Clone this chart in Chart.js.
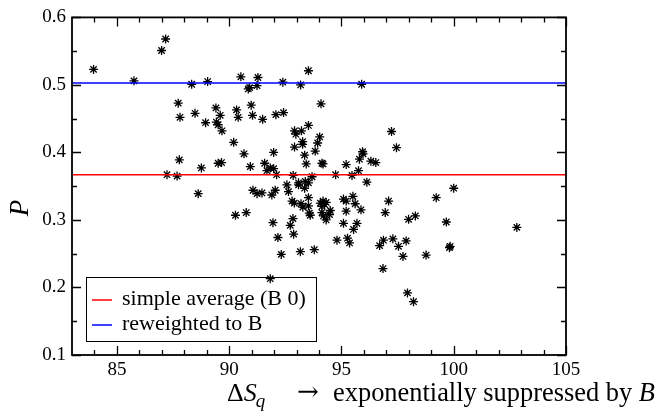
<!DOCTYPE html>
<html>
<head>
<meta charset="utf-8">
<script src="https://cdn.jsdelivr.net/npm/chart.js@4/dist/chart.umd.min.js"></script>
<style>
  body { margin: 0; background: #fff; }
  #wrap { width: 659px; height: 414px; }
</style>
</head>
<body>
<div id="wrap"><canvas id="c" width="659" height="414"></canvas></div>
<script>
// values
const deltaS = [
  83.96, 85.76, 86.99, 87.17, 87.73, 87.81, 88.33, 88.48, 88.95, 89.04,
  89.41, 89.43, 89.51, 89.60, 89.68, 90.20, 90.33, 90.40, 90.52, 90.66,
  90.85, 90.91, 90.98, 91.04, 90.94, 91.28, 91.24, 87.78, 87.23, 87.68,
  88.76, 89.51, 89.66, 92.39, 93.18, 93.53, 95.90, 94.09, 92.08, 92.42,
  91.49, 93.53, 92.91, 92.97, 93.22, 94.03, 93.94, 93.27, 93.27, 92.91,
  93.83, 91.98, 93.36, 97.23, 97.45, 95.94, 95.96, 95.80, 96.31, 96.53,
  91.58, 91.83, 91.98, 91.68, 93.43, 94.13, 94.18, 95.21, 95.76, 92.11,
  92.85, 93.69, 94.74, 95.47, 96.13, 88.62, 91.06, 91.24, 90.28, 90.76,
  92.57, 93.09, 93.39, 93.53, 93.36, 93.09, 91.46, 91.90, 92.05, 92.64,
  93.53, 92.80, 92.90, 93.20, 93.28, 93.53, 94.06, 94.18, 94.32, 94.13,
  94.25, 94.50, 94.47, 94.13, 94.20, 94.32, 93.57, 93.61, 95.09, 95.21,
  95.51, 95.61, 95.87, 95.21, 91.95, 92.84, 92.72, 95.09, 95.69, 95.54,
  92.87, 92.17, 94.80, 95.27, 95.36, 97.10, 96.95, 97.99, 98.29, 99.22,
  96.87, 96.70, 97.29, 97.54, 97.88, 97.74, 98.77, 96.85, 93.17, 93.79,
  92.32, 91.83, 97.94, 98.21, 100.00, 99.67, 102.81, 99.84, 99.81
];
const probP = [
  0.523, 0.506, 0.551, 0.568, 0.473, 0.452, 0.501, 0.458, 0.444, 0.505,
  0.466, 0.445, 0.441, 0.455, 0.432, 0.415, 0.463, 0.452, 0.512, 0.398,
  0.494, 0.496, 0.470, 0.455, 0.379, 0.511, 0.499, 0.389, 0.367, 0.365,
  0.377, 0.384, 0.385, 0.504, 0.500, 0.521, 0.501, 0.472, 0.456, 0.459,
  0.449, 0.440, 0.432, 0.427, 0.432, 0.423, 0.414, 0.416, 0.412, 0.408,
  0.402, 0.400, 0.396, 0.431, 0.407, 0.401, 0.398, 0.390, 0.387, 0.385,
  0.384, 0.377, 0.376, 0.373, 0.383, 0.384, 0.383, 0.382, 0.373, 0.367,
  0.366, 0.364, 0.367, 0.366, 0.356, 0.339, 0.344, 0.339, 0.307, 0.311,
  0.352, 0.355, 0.357, 0.355, 0.347, 0.352, 0.340, 0.337, 0.344, 0.342,
  0.333, 0.328, 0.325, 0.324, 0.319, 0.321, 0.325, 0.328, 0.326, 0.320,
  0.323, 0.314, 0.308, 0.311, 0.306, 0.300, 0.310, 0.307, 0.331, 0.328,
  0.335, 0.324, 0.315, 0.313, 0.296, 0.302, 0.292, 0.295, 0.295, 0.286,
  0.279, 0.274, 0.270, 0.273, 0.266, 0.328, 0.311, 0.301, 0.306, 0.333,
  0.270, 0.262, 0.272, 0.261, 0.269, 0.246, 0.248, 0.228, 0.253, 0.256,
  0.249, 0.213, 0.192, 0.179, 0.347, 0.297, 0.289, 0.261, 0.259
];
const simpleAvg = 0.367;
const reweighted = 0.503;
const xRange = [83, 105];
const yRange = [0.1, 0.6];
const xTicks = [85, 90, 95, 100, 105];
const yTicks = [0.1, 0.2, 0.3, 0.4, 0.5, 0.6];
const xMinor = [84, 86, 87, 88, 89, 91, 92, 93, 94, 96, 97, 98, 99, 101, 102, 103, 104];
const yMinor = [0.15, 0.25, 0.35, 0.45, 0.55];

const points = deltaS.map((x, i) => ({ x: x, y: probP[i] }));
const serif = '"Liberation Serif", "DejaVu Serif", serif';

// legend goes under the points (one point sits right on its top edge)
const legendBox = {
  id: 'legendBox',
  beforeDatasetsDraw(chart) {
    const ctx = chart.ctx;
    const bx = 86, by = 277, bw = 230, bh = 64;
    ctx.save();
    ctx.fillStyle = '#fff';
    ctx.fillRect(bx, by, bw, bh);
    ctx.strokeStyle = '#000';
    ctx.lineWidth = 1;
    ctx.strokeRect(bx + 0.5, by + 0.5, bw, bh);
    ctx.font = '22px ' + serif;
    ctx.textBaseline = 'middle';
    ctx.textAlign = 'left';
    chart.data.datasets.filter(d => d.inLegend).forEach((d, i) => {
      const yy = by + 22 + i * 25;
      ctx.strokeStyle = d.borderColor;
      ctx.lineWidth = 1.5;
      ctx.beginPath();
      ctx.moveTo(92, yy + 1); ctx.lineTo(112, yy + 1);
      ctx.stroke();
      ctx.fillStyle = '#000';
      ctx.fillText(d.label, 122, yy);
    });
    ctx.restore();
  }
};

// frame, inward ticks on all four sides and axis titles
const decor = {
  id: 'decor',
  afterDraw(chart) {
    const ctx = chart.ctx;
    const a = chart.chartArea;
    const sx = chart.scales.x, sy = chart.scales.y;
    ctx.save();
    ctx.strokeStyle = '#000';
    ctx.lineWidth = 1.8;
    ctx.strokeRect(a.left, a.top, a.right - a.left, a.bottom - a.top);

    ctx.lineWidth = 1.3;
    ctx.beginPath();
    const tickX = (v, len) => {
      const p = Math.round(sx.getPixelForValue(v)) + 0.5;
      ctx.moveTo(p, a.bottom); ctx.lineTo(p, a.bottom - len);
      ctx.moveTo(p, a.top); ctx.lineTo(p, a.top + len);
    };
    const tickY = (v, len) => {
      const p = Math.round(sy.getPixelForValue(v)) + 0.5;
      ctx.moveTo(a.left, p); ctx.lineTo(a.left + len, p);
      ctx.moveTo(a.right, p); ctx.lineTo(a.right - len, p);
    };
    xTicks.forEach(v => tickX(v, 9));
    xMinor.forEach(v => tickX(v, 5));
    yTicks.forEach(v => tickY(v, 9));
    yMinor.forEach(v => tickY(v, 5));
    ctx.stroke();

    // y title
    ctx.fillStyle = '#000';
    ctx.save();
    ctx.translate(21, 208);
    ctx.rotate(-Math.PI / 2);
    ctx.font = 'italic 27px ' + serif;
    ctx.textAlign = 'center';
    ctx.textBaseline = 'middle';
    ctx.fillText('P', 0, 0);
    ctx.restore();

    // x title: ΔS_q → exponentially suppressed by B
    ctx.textAlign = 'left';
    ctx.textBaseline = 'alphabetic';
    const base = 401;
    let x = 227;
    ctx.font = '26px ' + serif;
    ctx.fillText('\u0394', x, base); x += ctx.measureText('\u0394').width;
    ctx.font = 'italic 26px ' + serif;
    ctx.fillText('S', x, base); x += ctx.measureText('S').width;
    ctx.font = 'italic 19px ' + serif;
    ctx.fillText('q', x - 1, base + 6);
    ctx.font = '26px "DejaVu Serif", serif';
    ctx.fillText('\u2192', 297, base - 1);
    const rest = 'exponentially suppressed by ';
    ctx.font = '26px ' + serif;
    let w = ctx.measureText(rest).width;
    ctx.font = 'italic 26px ' + serif;
    w += ctx.measureText('B').width;
    const fs = 26 * 322 / w;
    x = 333;
    ctx.font = fs + 'px ' + serif;
    ctx.fillText(rest, x, base); x += ctx.measureText(rest).width;
    ctx.font = 'italic ' + fs + 'px ' + serif;
    ctx.fillText('B', x, base);
    ctx.restore();
  }
};

new Chart(document.getElementById('c'), {
  type: 'scatter',
  data: {
    datasets: [
      {
        label: 'simple average (B 0)',
        inLegend: true,
        data: [{ x: xRange[0], y: simpleAvg }, { x: xRange[1], y: simpleAvg }],
        showLine: true, borderColor: '#f00', borderWidth: 1.5, pointRadius: 0
      },
      {
        label: 'reweighted to B',
        inLegend: true,
        data: [{ x: xRange[0], y: reweighted }, { x: xRange[1], y: reweighted }],
        showLine: true, borderColor: '#00f', borderWidth: 1.5, pointRadius: 0
      },
      {
        label: 'samples',
        data: points,
        pointStyle: 'star', pointRadius: 4.5,
        borderColor: '#000', backgroundColor: '#000', borderWidth: 1.3
      }
    ]
  },
  options: {
    responsive: false,
    animation: false,
    layout: { padding: { left: 0, right: 93, top: 10, bottom: 0 } },
    plugins: { legend: { display: false }, tooltip: { enabled: false } },
    scales: {
      x: {
        type: 'linear', min: xRange[0], max: xRange[1],
        grid: { display: false, drawTicks: false },
        border: { display: false },
        afterBuildTicks: s => { s.ticks = xTicks.map(v => ({ value: v })); },
        afterFit: s => { s.height = 59; },
        ticks: { color: '#000', padding: 4, font: { family: serif, size: 19 } }
      },
      y: {
        type: 'linear', min: yRange[0], max: yRange[1],
        grid: { display: false, drawTicks: false },
        border: { display: false },
        afterBuildTicks: s => { s.ticks = yTicks.map(v => ({ value: v })); },
        afterFit: s => { s.width = 72; },
        ticks: { color: '#000', padding: 6, font: { family: serif, size: 19 },
                 callback: v => v.toFixed(1) }
      }
    }
  },
  plugins: [legendBox, decor]
});
</script>
</body>
</html>
